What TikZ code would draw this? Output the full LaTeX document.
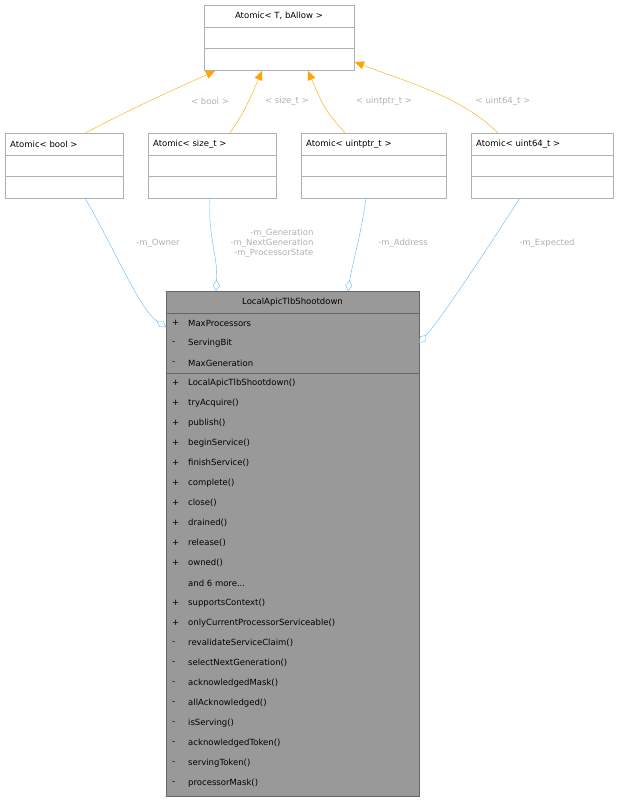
\documentclass[tikz,border=0pt]{standalone}
\usepackage{fontspec}
\setmainfont{DejaVu Sans}
\usetikzlibrary{arrows.meta}
\definecolor{edgeblue}{HTML}{63B8FF}
\definecolor{edgeorange}{HTML}{FFA500}
\definecolor{lblgray}{HTML}{B0B0B0}
\definecolor{boxgray}{HTML}{999999}
\newcommand{\moretxt}{and 6 more.{}.{}.}
\tikzset{
  box/.style={draw=lblgray, fill=white, anchor=north west, inner sep=0pt},
  mainbox/.style={draw=black!60, fill=boxgray, anchor=north west, inner sep=0pt},
  txt/.style={font=\fontsize{8.5}{10}\selectfont, inner sep=0pt},
  mem/.style={txt, anchor=west},
  lbl/.style={font=\fontsize{8.5}{10}\selectfont, text=lblgray, inner sep=0pt, align=center},
  inherit/.style={edgeorange, -{Triangle[length=9pt,width=8pt]}},
  aggr/.style={edgeblue, -{Diamond[open,length=11pt,width=7pt]}}
}
\begin{document}
\begin{tikzpicture}[x=1pt,y=-1pt]
  \useasboundingbox (0,0) rectangle (619,801);
  % template base
  \node[box, minimum width=150pt, minimum height=65pt] (base) at (204,5) {};
  \draw[lblgray] (204,27) -- (354,27) (204,48) -- (354,48);
  \node[txt] at (279,16) {Atomic< T, bAllow >};
  % instances
  \foreach \n/\x/\w/\t in {abool/5/118/{Atomic< bool >},asize/148/128/{Atomic< size\_t >},
      aptr/301/145/{Atomic< uintptr\_t >},au64/471/142/{Atomic< uint64\_t >}}{
    \node[box, minimum width=\w pt, minimum height=65pt] (\n) at (\x,133) {};
    \draw[lblgray] (\x,155) -- ++(\w,0) (\x,176) -- ++(\w,0);
    \node[txt, anchor=west] at (\x+5,144) {\t};
  }
  % main class
  \node[mainbox, minimum width=253pt, minimum height=505pt] (main) at (166,291) {};
  \draw[black!60] (166,313) -- (419,313) (166,373) -- (419,373);
  \node[txt] at (292.5,302) {LocalApicTlbShootdown};
  \foreach \v/\t [count=\i] in {+/MaxProcessors,-/ServingBit,-/MaxGeneration,
      +/LocalApicTlbShootdown(),+/tryAcquire(),+/publish(),+/beginService(),+/finishService(),
      +/complete(),+/close(),+/drained(),+/release(),+/owned(),{}/\moretxt,
      +/supportsContext(),+/onlyCurrentProcessorServiceable(),-/revalidateServiceClaim(),
      -/selectNextGeneration(),-/acknowledgedMask(),-/allAcknowledged(),-/isServing(),
      -/acknowledgedToken(),-/servingToken(),-/processorMask()}{
    \node[mem] at (172,303+20*\i) {\v};
    \node[mem] at (188,303+20*\i) {\t};
  }
  % inheritance
  \coordinate (b1) at (215,71);
  \coordinate (b2) at (262,71);
  \coordinate (b3) at (308,71);
  \coordinate (b4) at (355,62);
  \draw[inherit] (85,133) .. controls (140,105) .. (b1);
  \draw[inherit] (230,133) .. controls (245,110) .. (b2);
  \draw[inherit] (345,133) .. controls (325,110) .. (b3);
  \draw[inherit] (498,133) .. controls (460,95) and (400,80) .. (b4);
  \node[lbl] at (210,101) {< bool >};
  \node[lbl] at (287,101) {< size\_t >};
  \node[lbl] at (384,101) {< uintptr\_t >};
  \node[lbl] at (503,101) {< uint64\_t >};
  % aggregation
  \coordinate (m1) at (166,327);
  \coordinate (m2) at (216,291);
  \coordinate (m3) at (348,291);
  \coordinate (m4) at (419,343);
  \draw[aggr] (85,198) .. controls (115,250) and (140,310) .. (m1);
  \draw[aggr] (210,198) .. controls (208,240) and (218,255) .. (m2);
  \draw[aggr] (366,198) .. controls (360,240) and (352,265) .. (m3);
  \draw[aggr] (520,198) .. controls (480,260) and (440,320) .. (m4);
  \node[lbl] at (158,243) {-m\_Owner};
  \node[lbl, align=right] at (272,243) {-m\_Generation\\-m\_NextGeneration\\-m\_ProcessorState};
  \node[lbl] at (403,243) {-m\_Address};
  \node[lbl] at (547,243) {-m\_Expected};
\end{tikzpicture}
\end{document}
